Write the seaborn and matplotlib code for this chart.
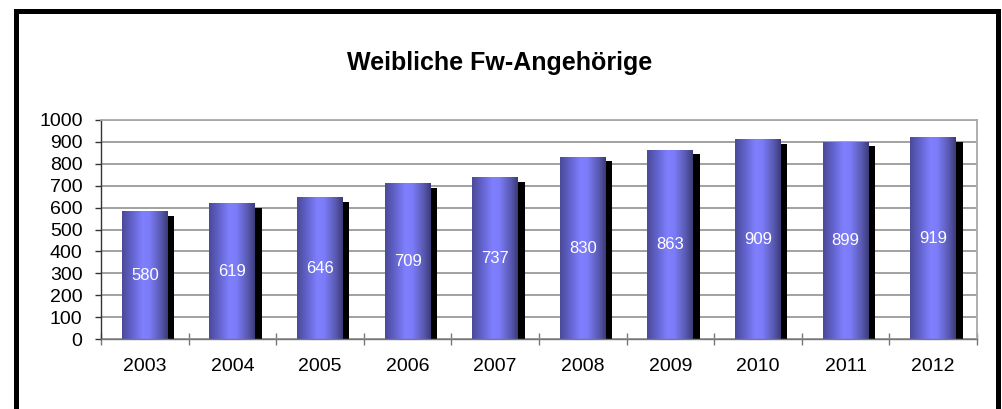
import numpy as np
import pandas as pd
import matplotlib
matplotlib.use("Agg")
import matplotlib.pyplot as plt
import matplotlib.patheffects as pe
from matplotlib.colors import LinearSegmentedColormap
from matplotlib.patches import Rectangle
import seaborn as sns

years = ["2003", "2004", "2005", "2006", "2007", "2008", "2009", "2010", "2011", "2012"]
values = [580, 619, 646, 709, 737, 830, 863, 909, 899, 919]
title = "Weibliche Fw-Angehörige"
yticks = list(range(0, 1001, 100))

sns.set_theme(style="white")
plt.rcParams["font.family"] = ["Liberation Sans", "DejaVu Sans"]

df = pd.DataFrame({"Jahr": years, "Anzahl": values})

fig = plt.figure(figsize=(10.02, 4.09), dpi=100)
ax = fig.add_axes([101 / 1002, 70 / 409, (977 - 101) / 1002, (339 - 120) / 409])

sns.barplot(data=df, x="Jahr", y="Anzahl", ax=ax, width=0.525, color="#7070e0",
            linewidth=0, zorder=2)

ax.set_ylim(0, 1000)
ax.set_xlim(-0.5, len(years) - 0.5)
ax.set_yticks(yticks)
ax.set_xlabel("")
ax.set_ylabel("")

# gridlines
ax.yaxis.grid(True, color="#9a9a9a", linewidth=1.3, zorder=0)
ax.xaxis.grid(False)
ax.set_axisbelow(True)

# spines
for s in ["top", "right"]:
    ax.spines[s].set_visible(True)
    ax.spines[s].set_color("#a8a8a8")
    ax.spines[s].set_linewidth(1.3)
ax.spines["left"].set_color("#333333")
ax.spines["left"].set_linewidth(1.0)
ax.spines["bottom"].set_color("#777777")
ax.spines["bottom"].set_linewidth(1.0)

# ticks
ax.tick_params(axis="y", which="major", direction="out", length=4.3, width=1,
               color="#333333", labelsize=14, pad=9, left=True)
ax.tick_params(axis="x", which="major", length=0, labelsize=14, pad=14)
ax.set_xticks(np.arange(-0.5, len(years) + 0.5, 1), minor=True)
ax.tick_params(axis="x", which="minor", direction="inout", length=8.6, width=1,
               color="#777777", bottom=True)
for lbl in ax.get_xticklabels() + ax.get_yticklabels():
    lbl.set_color("black")

# gradient fill + shadow for each bar
cmap = LinearSegmentedColormap.from_list(
    "bargrad",
    [(0.0, "#4a4a98"), (0.2, "#6060c8"), (0.45, "#8080ff"), (0.6, "#7c7cf8"),
     (0.85, "#5858b0"), (1.0, "#3a3a78")])
grad = np.linspace(0, 1, 256).reshape(1, -1)
container = ax.containers[0]
for patch in container.patches:
    patch.set_path_effects([pe.SimplePatchShadow(offset=(4.6, -3.0), shadow_rgbFace="black",
                                                 alpha=1.0), pe.Normal()])
    x, y = patch.get_x(), patch.get_y()
    w, h = patch.get_width(), patch.get_height()
    ax.imshow(grad, extent=[x, x + w, y, y + h], aspect="auto", cmap=cmap,
              zorder=2.5, interpolation="bicubic")
ax.set_xlim(-0.5, len(years) - 0.5)
ax.set_ylim(0, 1000)
ax.set_aspect("auto")

ax.bar_label(container, labels=[str(v) for v in values], label_type="center",
             color="white", fontsize=12, zorder=5)

fig.text(500 / 1002, (409 - 63) / 409, title, ha="center", va="center",
         fontsize=18, fontweight="bold", color="black")

# outer black frame
frame = Rectangle((15.5 / 1002, -0.05), (998 - 15.5) / 1002, 1.05 - 11 / 409,
                  transform=fig.transFigure, fill=False, edgecolor="black",
                  linewidth=3.6, clip_on=False)
fig.patches.append(frame)

fig.savefig("out.png", dpi=100, facecolor="white")
